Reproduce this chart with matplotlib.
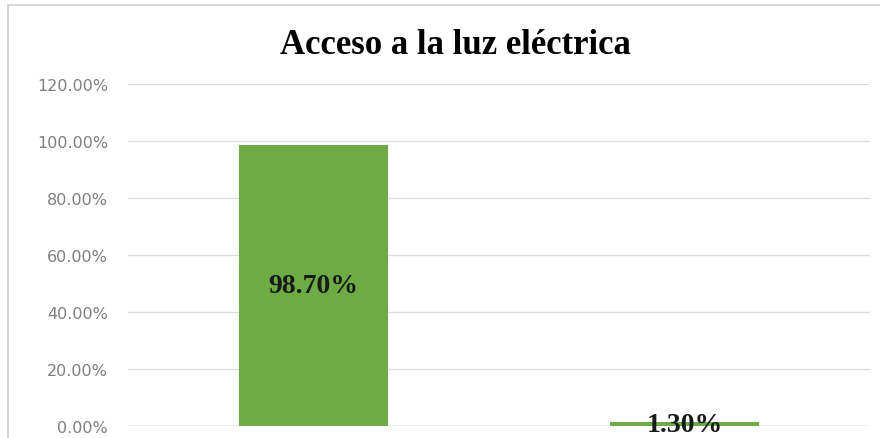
import matplotlib.pyplot as plt
from matplotlib.patches import Rectangle

categories = ['Sí', 'No']
values = [98.70, 1.30]
yticks = [0, 20, 40, 60, 80, 100, 120]

fig = plt.figure(figsize=(8.8, 4.39), dpi=100)
ax = fig.add_axes([0.145, 0.0273, 0.844, 0.779])

x = list(range(len(categories)))
ax.bar(x, values, width=0.4, color='#6dac44', zorder=2)

for xi, v in zip(x, values):
    ax.text(xi, v / 2, f'{v:.2f}%', ha='center', va='center',
            fontsize=20, fontweight='bold', family='Liberation Serif',
            color='#1a1a1a', zorder=3)

ax.set_xlim(-0.5, 1.5)
ax.set_ylim(0, 120)
ax.set_yticks(yticks)
ax.set_yticklabels([f'{t:.2f}%' for t in yticks], fontsize=11.5, color='#7f7f7f')
ax.set_xticks([])
ax.grid(axis='y', color='#dddddd', linewidth=1, zorder=0)
ax.tick_params(axis='y', length=0, pad=14)
for s in ax.spines.values():
    s.set_visible(False)
ax.axhline(0, color='#cfcfcf', linewidth=1, zorder=1)

fig.text(0.517, 0.897, 'Acceso a la luz eléctrica', ha='center', va='center',
         fontsize=25, fontweight='bold', family='Liberation Serif')

fig.patches.append(Rectangle((0.009, -0.1), 1.2, 1.086, transform=fig.transFigure,
                             fill=False, edgecolor='#d0d0d0', linewidth=1.2))

plt.savefig('out.png', dpi=100)
